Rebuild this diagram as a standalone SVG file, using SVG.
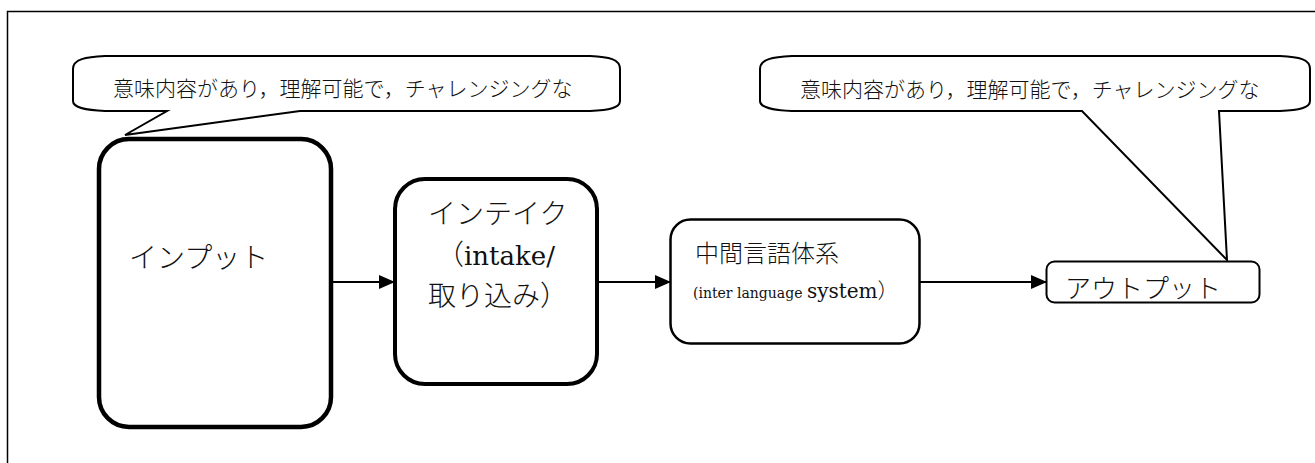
<svg xmlns="http://www.w3.org/2000/svg" width="1315" height="463" viewBox="0 0 1315 463">
<style>
  .jp { font-family: "Liberation Serif", "Noto Sans CJK JP", serif; fill: #111; font-weight: 300; }
  .lat { font-family: "DejaVu Serif", "Noto Sans CJK JP", serif; }
  .box { fill: #fff; stroke: #000; }
  .call { fill: #fff; stroke: #000; stroke-width: 2; stroke-linejoin: miter; }
  .conn { stroke: #000; stroke-width: 2; fill: none; }
</style>
<defs>
  <marker id="arr" markerWidth="16" markerHeight="14" refX="15" refY="7" orient="auto" markerUnits="userSpaceOnUse">
    <path d="M0,0 L16,7 L0,14 Z" fill="#000"/>
  </marker>
</defs>
<rect x="0" y="0" width="1315" height="463" fill="#fff"/>
<rect x="7.5" y="11.5" width="1330" height="480" fill="none" stroke="#000" stroke-width="1.5"/>

<g id="callout1">
  <path class="call" d="M73,69 C73,59 86,57 105,56 L590,56 C609,57 620,59 620,69 L620,101 C620,108 609,110 590,111 L300,111 L125,135 L167,111 L105,111 C86,110 73,108 73,101 Z"/>
  <text class="jp" x="113" y="96" font-size="21">意味内容があり，理解可能で，チャレンジングな</text>
</g>

<g id="callout2">
  <path class="call" d="M760,69 C760,59 773,57 792,56 L1280,56 C1299,57 1310,59 1310,69 L1310,101 C1310,108 1299,110 1280,111 L1219,111 L1227,260 L1082,111 L792,111 C773,110 760,108 760,101 Z"/>
  <text class="jp" x="800" y="97" font-size="21">意味内容があり，理解可能で，チャレンジングな</text>
</g>

<g id="input">
  <rect class="box" x="99" y="139" width="232" height="288" rx="30" ry="30" stroke-width="4.5"/>
  <text class="jp" x="129" y="268" font-size="28">インプット</text>
</g>

<g id="intake">
  <rect class="box" x="395" y="179" width="202" height="205" rx="30" ry="30" stroke-width="4"/>
  <text class="jp" x="428" y="224" font-size="28">インテイク</text>
  <text class="jp" x="436" y="265" font-size="28">（<tspan class="lat" font-size="26">intake/</tspan></text>
  <text class="jp" x="428" y="306" font-size="28">取り込み）</text>
</g>

<g id="interlanguage">
  <rect class="box" x="670.5" y="219.5" width="249" height="124" rx="20" ry="20" stroke-width="2.5"/>
  <text class="jp" x="695" y="262" font-size="24">中間言語体系</text>
  <text class="jp" x="693" y="298" font-size="14"><tspan class="lat">(inter language </tspan><tspan class="lat" font-size="20">system</tspan><tspan font-size="21">）</tspan></text>
</g>

<g id="output">
  <rect class="box" x="1046.5" y="261.5" width="213" height="41" rx="8" ry="8" stroke-width="2"/>
  <text class="jp" x="1065" y="298" font-size="26">アウトプット</text>
</g>

<g id="connectors">
  <line class="conn" x1="333" y1="282" x2="394" y2="282" marker-end="url(#arr)"/>
  <line class="conn" x1="599" y1="282" x2="670" y2="282" marker-end="url(#arr)"/>
  <line class="conn" x1="920" y1="282" x2="1046" y2="282" marker-end="url(#arr)"/>
</g>
</svg>
